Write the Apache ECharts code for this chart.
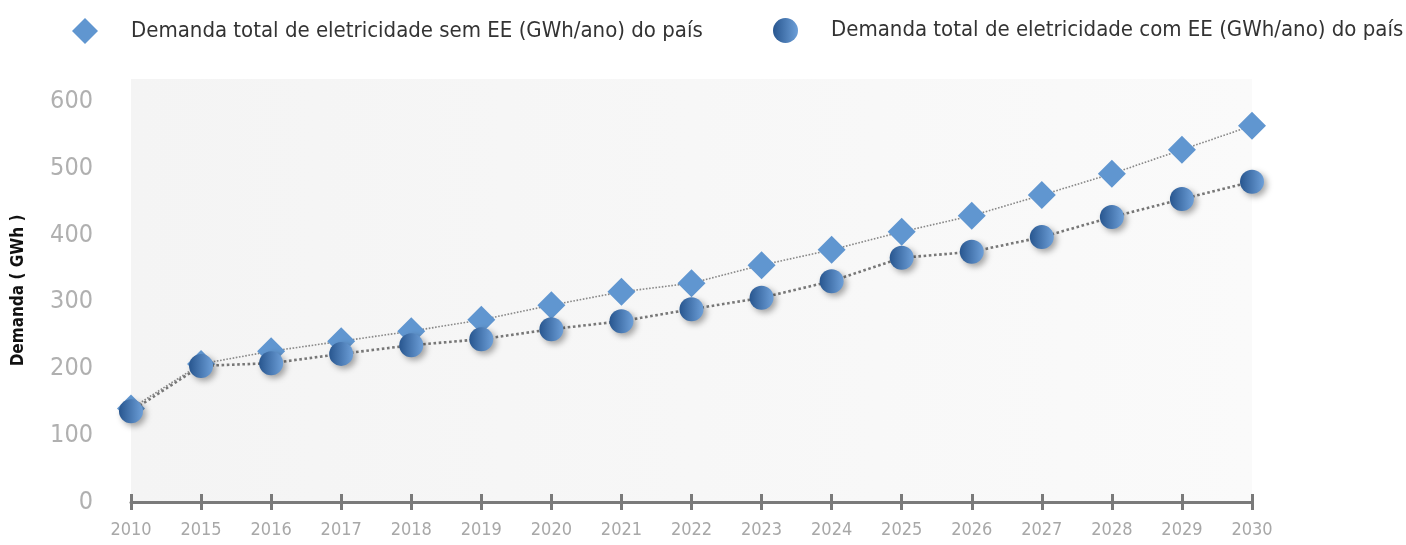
<!DOCTYPE html>
<html>
<head>
<meta charset="utf-8">
<script src="https://cdn.jsdelivr.net/npm/echarts@6/dist/echarts.min.js"></script>
<style>
  html, body { margin: 0; padding: 0; background: #fff; }
  #main { width: 1406px; height: 545px; }
</style>
</head>
<body>
<div id="main"></div>
<script>
// anos do eixo x
var anos = ["2010", "2015", "2016", "2017", "2018", "2019", "2020", "2021", "2022",
  "2023", "2024", "2025", "2026", "2027", "2028", "2029", "2030"];
// demanda sem eficiência energética
var semEE = [140, 207, 226, 241, 256, 273, 295, 315, 328, 355, 378, 405, 429, 460, 492, 528, 564];
// demanda com eficiência energética
var comEE = [136, 204, 208, 222, 235, 244, 259, 271, 289, 306, 331, 366, 375, 397, 427, 454, 480];

var nomeSem = "Demanda total de eletricidade sem EE (GWh/ano) do país";
var nomeCom = "Demanda total de eletricidade com EE (GWh/ano) do país";
var fonte = "'DejaVu Sans Condensed', 'Liberation Sans Narrow', sans-serif";

var circulo = new echarts.graphic.LinearGradient(0, 0, 1, 0, [
  { offset: 0, color: "#28568f" },
  { offset: 1, color: "#6d9fd8" }
]);

var legendaTexto = {
  fontFamily: fonte,
  fontSize: 22,
  color: "#333",
  padding: [0, 0, 0, 28]
};

var myChart = echarts.init(document.getElementById("main"));
myChart.setOption({
  animation: false,
  legend: [
    {
      top: 13,
      left: 67,
      itemWidth: 26,
      itemHeight: 26,
      textStyle: legendaTexto,
      data: [{ name: nomeSem, icon: "diamond" }]
    },
    {
      top: 13,
      left: 768,
      itemWidth: 25,
      itemHeight: 25,
      textStyle: legendaTexto,
      data: [{ name: nomeCom, icon: "circle" }]
    }
  ],
  grid: {
    left: 131,
    right: 154,
    top: 79,
    bottom: 43,
    show: true,
    borderWidth: 0,
    backgroundColor: new echarts.graphic.LinearGradient(0, 0, 1, 0, [
      { offset: 0, color: "#f4f4f4" },
      { offset: 1, color: "#fafafa" }
    ])
  },
  xAxis: [
    {
      type: "category",
      data: anos,
      boundaryGap: false,
      axisLine: { lineStyle: { color: "#7a7a7a", width: 3 } },
      axisTick: { alignWithLabel: true, length: 8, lineStyle: { color: "#7a7a7a", width: 3 } },
      axisLabel: { color: "#a8a8a8", fontFamily: fonte, fontSize: 18, margin: 19 },
      splitLine: { show: false }
    },
    {
      type: "category",
      data: anos,
      position: "bottom",
      boundaryGap: false,
      axisLine: { show: false },
      axisTick: { inside: true, length: 8, lineStyle: { color: "#7a7a7a", width: 3 } },
      axisLabel: { show: false },
      splitLine: { show: false }
    }
  ],
  yAxis: {
    type: "value",
    min: 0,
    max: 634,
    interval: 100,
    name: "Demanda ( GWh )",
    nameLocation: "middle",
    nameGap: 104,
    nameTextStyle: { fontFamily: fonte, fontSize: 17, fontWeight: "bold", color: "#111" },
    axisLine: { show: false },
    axisTick: { show: false },
    splitLine: { show: false },
    axisLabel: {
      color: "#b0b0b0",
      fontFamily: fonte,
      fontSize: 25,
      margin: 38,
      showMaxLabel: false
    }
  },
  series: [
    {
      name: nomeSem,
      type: "line",
      data: semEE,
      symbol: "diamond",
      symbolSize: 28,
      itemStyle: { color: "#6096d0" },
      lineStyle: { color: "#888", width: 1.6, type: "dotted" },
      z: 2
    },
    {
      name: nomeCom,
      type: "line",
      data: comEE,
      symbol: "circle",
      symbolSize: 24,
      itemStyle: {
        color: circulo,
        shadowBlur: 6,
        shadowOffsetX: 3,
        shadowOffsetY: 3,
        shadowColor: "rgba(0,0,0,0.35)"
      },
      lineStyle: { color: "#777", width: 2.6, type: "dotted" },
      z: 3
    }
  ]
});
</script>
</body>
</html>
